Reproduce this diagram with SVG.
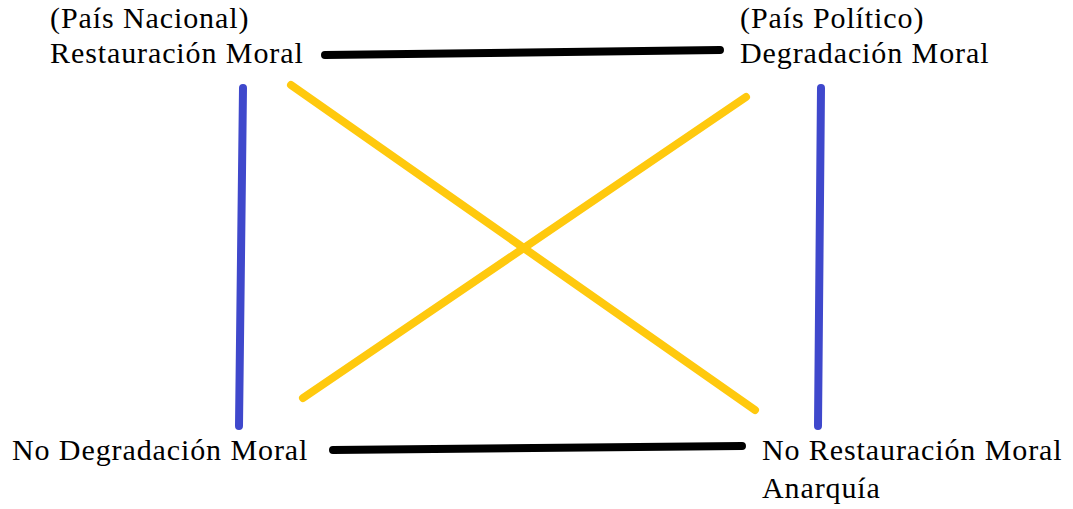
<svg xmlns="http://www.w3.org/2000/svg" width="1073" height="509" viewBox="0 0 1073 509">
<style>
text{font-family:'Liberation Serif','DejaVu Serif',serif;font-size:30px;letter-spacing:0.9px;fill:#000}
.l{fill:none;stroke-width:8;stroke-linecap:round}
.k{stroke:#000}
.b{stroke:#3F48CC}
.y{stroke:#FFC90E}
</style>
<rect width="1073" height="509" fill="#fff"/>
<g id="connectors">
<line class="l k" x1="325" y1="55" x2="720" y2="50"/>
<line class="l k" x1="333" y1="450" x2="742" y2="446"/>
<line class="l b" x1="243" y1="88" x2="239" y2="426"/>
<line class="l b" x1="821" y1="88" x2="818" y2="426"/>
<line class="l y" x1="291" y1="85" x2="755" y2="410"/>
<line class="l y" x1="746" y1="97" x2="303" y2="398"/>
</g>
<g id="node-tl">
<text x="50" y="28">(País Nacional)</text>
<text x="50" y="63">Restauración Moral</text>
</g>
<g id="node-tr">
<text x="740" y="28">(País Político)</text>
<text x="740" y="63">Degradación Moral</text>
</g>
<g id="node-bl">
<text x="12" y="460">No Degradación Moral</text>
</g>
<g id="node-br">
<text x="762" y="460">No Restauración Moral</text>
<text x="762" y="498">Anarquía</text>
</g>
</svg>
